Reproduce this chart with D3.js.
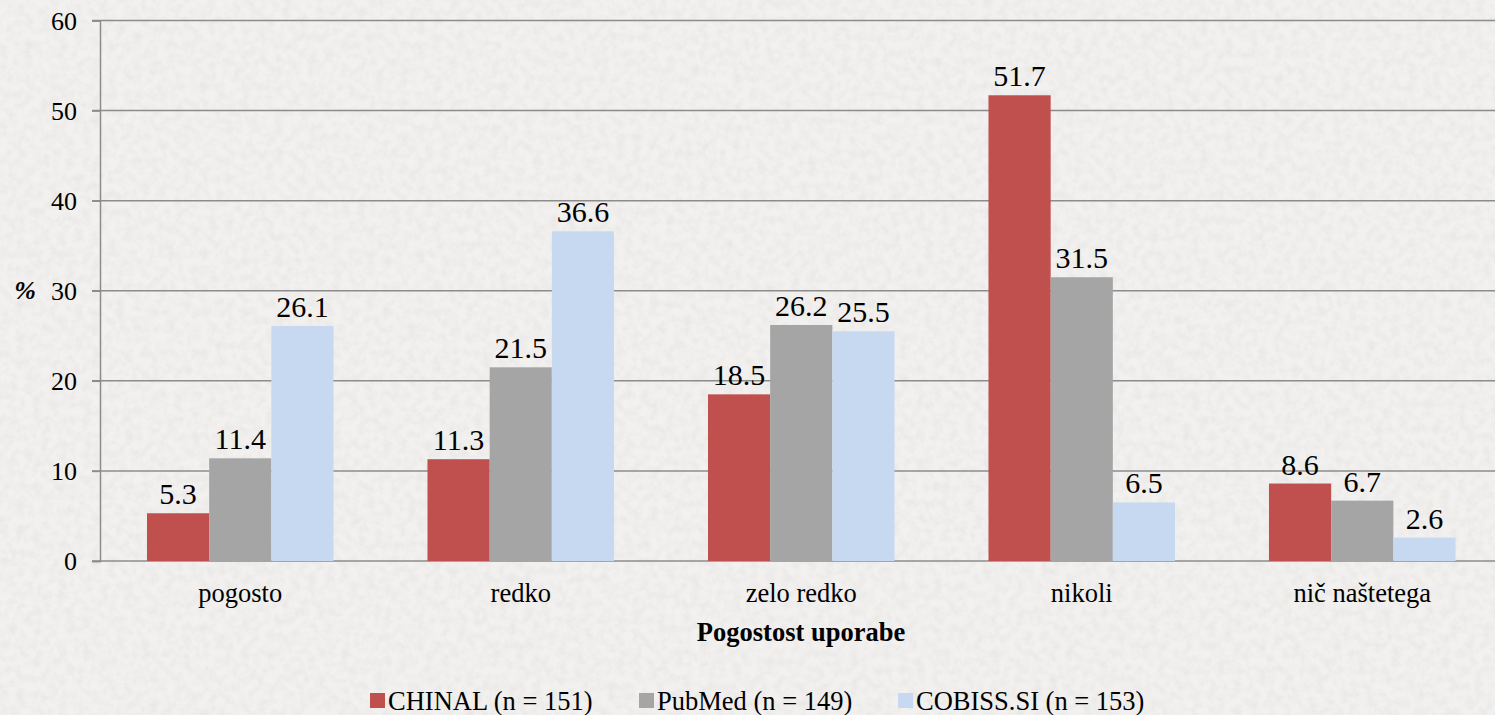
<!DOCTYPE html>
<html>
<head>
<meta charset="utf-8">
<script src="https://cdn.jsdelivr.net/npm/d3@7"></script>
<style>
  html, body { margin: 0; padding: 0; background: #ecebe9; }
  svg { display: block; }
</style>
</head>
<body>
<div id="chart"></div>
<script>
"use strict";

const categories = ["pogosto", "redko", "zelo redko", "nikoli", "nič naštetega"];
const seriesNames = ["CHINAL (n = 151)", "PubMed (n = 149)", "COBISS.SI (n = 153)"];
const chinalValues = [5.3, 11.3, 18.5, 51.7, 8.6];
const pubmedValues = [11.4, 21.5, 26.2, 31.5, 6.7];
const cobissValues = [26.1, 36.6, 25.5, 6.5, 2.6];
const yTicks = [0, 10, 20, 30, 40, 50, 60];

const seriesColors = ["#C0504D", "#A5A5A5", "#C6D9F1"];
const seriesValues = [chinalValues, pubmedValues, cobissValues];
const FONT = "'Liberation Serif', 'DejaVu Serif', 'Noto Serif', Tinos, 'Times New Roman', serif";

(function renderChart() {
  const width = 1495;
  const height = 715;
  const plot = { left: 100, right: 1502.5, top: 20.5, bottom: 561 };

  const svg = d3.select("#chart")
    .append("svg")
    .attr("width", width)
    .attr("height", height)
    .style("font-family", FONT);

  // paper-like background
  const defs = svg.append("defs");
  const noise = defs.append("filter")
    .attr("id", "paper")
    .attr("x", 0).attr("y", 0).attr("width", "100%").attr("height", "100%");
  noise.append("feTurbulence")
    .attr("type", "fractalNoise")
    .attr("baseFrequency", 0.12)
    .attr("numOctaves", 4)
    .attr("seed", 3)
    .attr("result", "turb");
  noise.append("feColorMatrix")
    .attr("in", "turb")
    .attr("type", "matrix")
    .attr("values", "0 0 0 0 0.6  0 0 0 0 0.6  0 0 0 0 0.59  0 0 0 -1.1 0.72");

  svg.append("rect")
    .attr("width", width)
    .attr("height", height)
    .attr("fill", "#f2f1ef");
  svg.append("rect")
    .attr("width", width)
    .attr("height", height)
    .attr("filter", "url(#paper)")
    .attr("opacity", 0.4);

  const x0 = d3.scaleBand()
    .domain(categories)
    .range([plot.left, plot.right])
    .paddingInner(0.335)
    .paddingOuter(0.1675);
  const x1 = d3.scaleBand()
    .domain(d3.range(seriesNames.length))
    .range([0, x0.bandwidth()]);
  const y = d3.scaleLinear()
    .domain([0, 60])
    .range([plot.bottom, plot.top]);

  // gridlines
  svg.append("g")
    .selectAll("line")
    .data(yTicks)
    .join("line")
    .attr("x1", plot.left - 8)
    .attr("x2", width)
    .attr("y1", (v) => y(v))
    .attr("y2", (v) => y(v))
    .attr("stroke", "#8c8c8c")
    .attr("stroke-width", 1.5);

  // left axis
  const yAxis = svg.append("g")
    .attr("transform", `translate(${plot.left},0)`)
    .call(d3.axisLeft(y).tickValues(yTicks).tickSize(8).tickPadding(15));
  yAxis.attr("font-family", FONT);
  yAxis.select(".domain").attr("stroke", "#8c8c8c").attr("stroke-width", 1.5);
  yAxis.selectAll("line").attr("stroke", "#8c8c8c").attr("stroke-width", 1.5);
  yAxis.selectAll("text")
    .style("font-family", FONT)
    .attr("font-size", 26)
    .attr("fill", "#000")
    .attr("dy", "0.34em");

  // bars
  const groups = svg.append("g")
    .selectAll("g")
    .data(categories)
    .join("g")
    .attr("transform", (c) => `translate(${x0(c)},0)`);

  groups.selectAll("rect")
    .data((c, ci) => seriesValues.map((vals, si) => ({ si, value: vals[ci] })))
    .join("rect")
    .attr("x", (d) => x1(d.si))
    .attr("y", (d) => y(d.value))
    .attr("width", x1.bandwidth())
    .attr("height", (d) => y(0) - y(d.value))
    .attr("fill", (d) => seriesColors[d.si]);

  groups.selectAll("text")
    .data((c, ci) => seriesValues.map((vals, si) => ({ si, value: vals[ci] })))
    .join("text")
    .attr("x", (d) => x1(d.si) + x1.bandwidth() / 2)
    .attr("y", (d) => y(d.value) - 9)
    .attr("text-anchor", "middle")
    .style("font-family", FONT)
    .attr("font-size", 30)
    .text((d) => d.value.toFixed(1));

  // category labels
  svg.append("g")
    .selectAll("text")
    .data(categories)
    .join("text")
    .attr("x", (c) => x0(c) + x0.bandwidth() / 2)
    .attr("y", 602)
    .attr("text-anchor", "middle")
    .style("font-family", FONT)
    .attr("font-size", 26.5)
    .text((c) => c);

  // axis titles
  svg.append("text")
    .attr("x", 801)
    .attr("y", 641)
    .attr("text-anchor", "middle")
    .style("font-family", FONT)
    .attr("font-size", 26.5)
    .attr("font-weight", 700)
    .text("Pogostost uporabe");

  svg.append("text")
    .attr("x", 25)
    .attr("y", 299)
    .attr("text-anchor", "middle")
    .style("font-family", FONT)
    .attr("font-size", 26)
    .attr("font-weight", 700)
    .attr("font-style", "italic")
    .text("%");

  // legend
  const legendX = [370, 639, 898];
  const legend = svg.append("g")
    .selectAll("g")
    .data(seriesNames)
    .join("g")
    .attr("transform", (d, i) => `translate(${legendX[i]},693)`);
  legend.append("rect")
    .attr("width", 15)
    .attr("height", 15)
    .attr("fill", (d, i) => seriesColors[i]);
  legend.append("text")
    .attr("x", 18)
    .attr("y", 17)
    .style("font-family", FONT)
    .attr("font-size", 26.5)
    .text((d) => d);
})();
</script>
</body>
</html>
